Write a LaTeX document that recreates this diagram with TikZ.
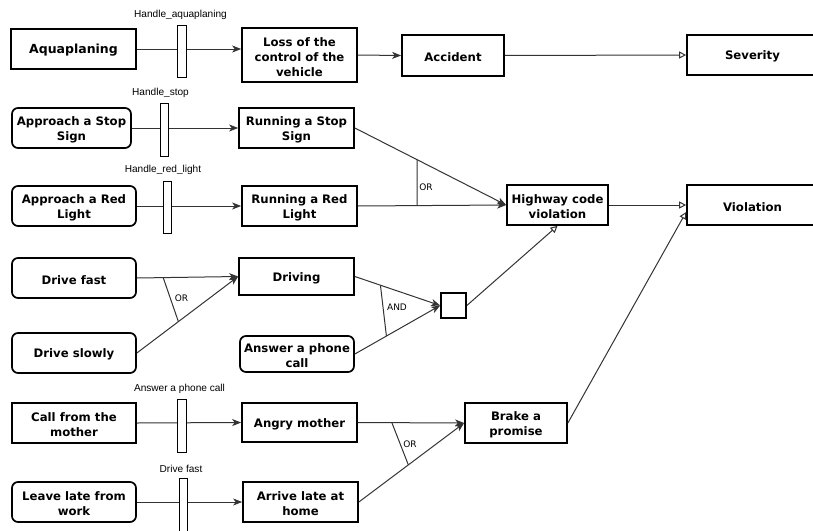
\documentclass[tikz,border=0pt]{standalone}
\usepackage{fontspec}
\setmainfont{DejaVu Sans}
\newfontfamily\lblfont{Liberation Sans}
\usetikzlibrary{arrows.meta,calc}
\newcommand\mkbox[7]{\node[#7, minimum width={(#4-#2)*1pt}, minimum height={(#5-#3)*1pt}] (#1) at ({(#2+#4)/2},{(#3+#5)/2}) {\rule{0pt}{12.5pt}#6};}
\tikzset{
  base/.style={draw=black, line width=1.7pt, inner sep=0pt, align=center, font=\fontsize{11.7}{15}\selectfont\bfseries},
  sharp/.style={base},
  rnd/.style={base, rounded corners=6pt},
  barrier/.style={draw=black, line width=1pt, fill=white, inner sep=0pt},
  conn/.style={draw=black!80, line width=1pt},
  fa/.style={conn, -{Stealth[length=9pt,width=7pt,inset=2.5pt]}},
  oa/.style={conn, -{Triangle[open,length=7pt,width=7pt]}},
  hlbl/.style={font=\lblfont\fontsize{10.1}{12}\selectfont, inner sep=0pt},
  glbl/.style={font=\fontsize{9}{11}\selectfont, inner sep=0pt},
}
\begin{document}
\begin{tikzpicture}[x=1pt,y=-1pt]
\useasboundingbox (0,0) rectangle (813,530);
% boxes
\mkbox{aqua}{11}{29}{136}{69}{\fontsize{12.5}{15}\selectfont Aquaplaning}{sharp}
\mkbox{loss}{242}{28}{357}{82}{Loss of the\\control of the\\vehicle}{sharp}
\mkbox{acc}{402}{35}{504}{76}{Accident}{sharp}
\mkbox{sev}{687}{35}{818}{75}{Severity}{sharp}
\mkbox{stop}{12}{108}{131}{148}{Approach a Stop\\Sign}{rnd}
\mkbox{rstop}{239}{108}{354}{148}{Running a Stop\\Sign}{sharp}
\mkbox{red}{12}{186}{136}{226}{Approach a Red\\Light}{rnd}
\mkbox{rred}{242}{186}{357}{226}{Running a Red\\Light}{sharp}
\mkbox{hcv}{507}{185}{608}{225}{Highway code\\violation}{sharp}
\mkbox{viol}{687}{185}{818}{225}{Violation}{sharp}
\mkbox{fast}{12}{258}{136}{298}{Drive fast}{rnd}
\mkbox{slow}{12}{333}{136}{373}{Drive slowly}{rnd}
\mkbox{driving}{239}{258}{354}{295}{Driving}{sharp}
\mkbox{phone}{240}{336}{354}{372}{Answer a phone\\call}{rnd}
\mkbox{sq}{441}{293}{466}{318}{}{sharp}
\mkbox{mother}{12}{403}{136}{443}{Call from the\\mother}{sharp}
\mkbox{angry}{242}{403}{357}{442}{Angry mother}{sharp}
\mkbox{brake}{465}{403}{567}{443}{Brake a\\promise}{sharp}
\mkbox{leave}{12}{482}{136}{522}{Leave late from\\work}{rnd}
\mkbox{late}{243}{482}{358}{522}{Arrive late at\\home}{sharp}
% connectors
\draw[fa] (aqua.east) -- (loss.west |- aqua.east);
\draw[fa] (loss.east) -- (acc.west);
\draw[oa] (acc.east) -- (sev.west);
\draw[fa] (stop.east) -- (rstop.west);
\draw[fa] (red.east) -- (rred.west);
\draw[fa] (rstop.east) -- (hcv.west);
\draw[fa] (rred.east) -- (hcv.west);
\draw[conn] ($(rstop.east)!0.412!(hcv.west)$) -- ($(rred.east)!0.4!(hcv.west)$);
\node[glbl] (or1) at (426,187) {OR};
\draw[oa] (hcv.east) -- (viol.west);
\draw[fa] (fast.east) -- (driving.west);
\draw[fa] (slow.east) -- (driving.west);
\draw[conn] ($(fast.east)!0.26!(driving.west)$) -- ($(slow.east)!0.41!(driving.west)$);
\node[glbl] (or2) at (181.5,298) {OR};
\draw[fa] (driving.east) -- (sq.west);
\draw[fa] (phone.east) -- (sq.west);
\draw[conn] ($(driving.east)!0.3!(sq.west)$) -- ($(phone.east)!0.37!(sq.west)$);
\node[glbl] (and1) at (397,307) {AND};
\draw[oa] (sq.east) -- (hcv.south);
\draw[fa] (mother.east) -- (angry.west);
\draw[fa] (leave.east) -- (late.west);
\draw[fa] (angry.east) -- (brake.west);
\draw[fa] (late.east) -- (brake.west);
\draw[conn] ($(angry.east)!0.32!(brake.west)$) -- ($(late.east)!0.47!(brake.west)$);
\node[glbl] (or3) at (410,444) {OR};
\coordinate (vin) at ($(viol.west)+(0,7)$);
\draw[oa] (brake.east) -- (vin);
% barriers
\mkbox{b1}{177}{25}{186}{77}{}{barrier}
\mkbox{b2}{160}{103}{168}{156}{}{barrier}
\mkbox{b3}{163}{181}{171}{233}{}{barrier}
\mkbox{b4}{177}{399}{186}{452}{}{barrier}
\mkbox{b5}{179}{478}{187}{545}{}{barrier}
\node[hlbl] (l1) at (180.5,15) {Handle\_aquaplaning};
\node[hlbl] (l2) at (160.5,93) {Handle\_stop};
\node[hlbl] (l3) at (163,170) {Handle\_red\_light};
\node[hlbl] (l4) at (179.5,389) {Answer a phone call};
\node[hlbl] (l5) at (181,469) {Drive fast};
\end{tikzpicture}
\end{document}
